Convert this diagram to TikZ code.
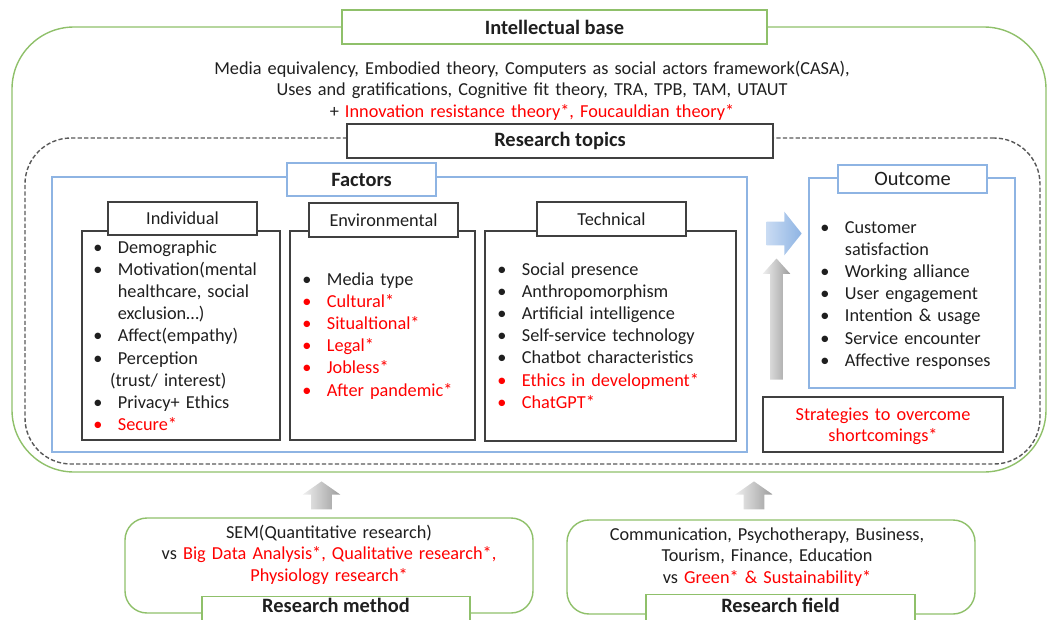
\documentclass[tikz,border=0pt]{standalone}
\usepackage{fontspec}
\setmainfont{Carlito}
\usetikzlibrary{shapes.arrows,positioning,fit}
\definecolor{FrameGreen}{HTML}{8FC06A}
\definecolor{FrameBlue}{HTML}{8EB4E3}
\definecolor{FrameDark}{HTML}{404040}
\definecolor{DashGray}{HTML}{595959}
\definecolor{TextDark}{HTML}{1F1F1F}
\definecolor{NewRed}{HTML}{FF0000}
\definecolor{ArrowBlueA}{HTML}{C9DBF3}
\definecolor{ArrowBlueB}{HTML}{8EB4E3}
\definecolor{ArrowGrayA}{HTML}{EFEFEF}
\definecolor{ArrowGrayB}{HTML}{9C9C9C}
\newcommand{\px}{0.025cm}
\newcommand{\redtxt}[1]{{\color{NewRed}#1}}
\newcommand{\bul}[1]{\makebox[17.5pt][l]{\textbullet}#1}
\newcommand{\rbul}[1]{{\color{NewRed}\makebox[17.5pt][l]{\textbullet}#1}}
\newcommand{\cont}[1]{\hspace*{17.5pt}#1}
\tikzset{
    % frames that hold the parts
    base frame/.style={
        draw=FrameGreen,
        line width=1pt,
        rounded corners=1.55cm,
        inner sep=0pt
    },
    topics frame/.style={
        draw=DashGray,
        line width=1pt,
        dash pattern=on 3pt off 1.6pt,
        rounded corners=1.15cm,
        inner sep=0pt
    },
    blue frame/.style={
        draw=FrameBlue,
        line width=1pt,
        inner sep=0pt
    },
    list box/.style={
        draw=FrameDark,
        line width=1pt,
        inner sep=0pt
    },
    field box/.style={
        draw=FrameGreen,
        line width=1pt,
        rounded corners=0.55cm,
        inner sep=0pt
    },
    % title boxes sitting on the frames
    title green/.style={
        draw=FrameGreen,
        line width=1pt,
        fill=white,
        inner sep=0pt,
        text=TextDark,
        font=\fontsize{14.5}{17}\selectfont\bfseries
    },
    title dark/.style={
        title green,
        draw=FrameDark
    },
    title blue/.style={
        title green,
        draw=FrameBlue
    },
    title plain/.style={
        title dark,
        font=\fontsize{13}{15}\selectfont
    },
    title plain blue/.style={
        title blue,
        font=\fontsize{14.5}{17}\selectfont
    },
    title open/.style={
        title green,
        anchor=north,
        inner xsep=0pt,
        inner ysep=3*\px,
        text height=#1,
        text depth=20pt
    },
    list text/.style={
        inner sep=0pt,
        anchor=base west,
        align=left,
        text=TextDark,
        text width=#1,
        font=\fontsize{13}{15.8}\selectfont
    },
    middle text/.style={
        inner sep=0pt,
        anchor=base,
        align=center,
        text=TextDark,
        text width=#1,
        font=\fontsize{13}{15.3}\selectfont
    },
    % block arrows
    up arrow/.style={
        single arrow,
        draw=none,
        inner xsep=0pt,
        rotate=90,
        left color=ArrowGrayA,
        right color=ArrowGrayB
    },
    right arrow/.style={
        single arrow,
        draw=none,
        inner xsep=0pt,
        left color=ArrowBlueA,
        right color=ArrowBlueB
    }
}
\begin{document}
\begin{tikzpicture}[x=\px, y=-\px]
    \useasboundingbox (0,0) rectangle (1047,619);

    % Intellectual base
    \node[base frame, fit={(12,27) (1046,472)}] (base) {};
    \node[title green, minimum width=425*\px, minimum height=34*\px] (baset) at (554.5,27) {Intellectual base};
    \node[middle text=760*\px] (theories) at (532,74)
        {Media equivalency, Embodied theory, Computers as social actors framework(CASA),\\
         Uses and gratifications, Cognitive fit theory, TRA, TPB, TAM, UTAUT\\
         + \redtxt{Innovation resistance theory*, Foucauldian theory*}};

    % Research topics
    \node[topics frame, fit={(25,138) (1040,464)}] (topics) {};
    \node[title dark, minimum width=426*\px, minimum height=34*\px] (topicst) at (560,141) {Research topics};

    % Factors
    \node[blue frame, fit={(52,177) (747,452)}] (factors) {};
    \node[title blue, minimum width=149*\px, minimum height=33*\px] (factorst) at (361.5,179.5) {Factors};

    \node[list box, fit={(82,231) (280,440)}] (indiv) {};
    \node[title plain, minimum width=149*\px, minimum height=33*\px] (indivt) at (182.5,218.5) {Individual};
    \node[list box, fit={(290,231) (475,440)}] (env) {};
    \node[title plain, minimum width=149*\px, minimum height=34*\px] (envt) at (383.5,220) {Environmental};
    \node[list box, fit={(485,231) (736,441)}] (tech) {};
    \node[title plain, minimum width=149*\px, minimum height=34*\px] (techt) at (611.5,219) {Technical};

    \node[list text=185*\px] (indivl) at (93,253)
        {\bul{Demographic}\\
         \bul{Motivation(mental}\\
         \cont{healthcare, social}\\
         \cont{exclusion…)}\\
         \bul{Affect(empathy)}\\
         \bul{Perception}\\
         \hspace*{12pt}(trust/ interest)\\
         \bul{Privacy+ Ethics}\\
         \rbul{Secure*}};
    \node[list text=170*\px] (envl) at (302,285)
        {\bul{Media type}\\
         \rbul{Cultural*}\\
         \rbul{Situaltional*}\\
         \rbul{Legal*}\\
         \rbul{Jobless*}\\
         \rbul{After pandemic*}};
    \node[list text=235*\px] (techl) at (497,275)
        {\bul{Social presence}\\
         \bul{Anthropomorphism}\\
         \bul{Artificial intelligence}\\
         \bul{Self-service technology}\\
         \bul{Chatbot characteristics}\\
         \rbul{Ethics in development*}\\
         \rbul{ChatGPT*}};

    % Outcome
    \node[blue frame, fit={(809,178) (1015,388)}] (outc) {};
    \node[title plain blue, minimum width=149*\px, minimum height=28*\px] (outct) at (912.5,179) {Outcome};
    \node[list text=190*\px] (outcl) at (820,233)
        {\bul{Customer}\\
         \cont{satisfaction}\\
         \bul{Working alliance}\\
         \bul{User engagement}\\
         \bul{Intention \& usage}\\
         \bul{Service encounter}\\
         \bul{Affective responses}};

    \node[list box, fit={(763,397) (1003,452)}] (strat) {};
    \node[middle text=235*\px, text=NewRed] (stratl) at (883,420)
        {Strategies to overcome\\ shortcomings*};

    % arrows
    \node[right arrow, minimum height=35*\px, inner ysep=11.5*\px,
          single arrow head extend=10*\px, single arrow tip angle=103] (toout) at (779.5,233.5) {};
    \node[up arrow, minimum height=121*\px, inner ysep=6*\px,
          single arrow head extend=7.5*\px, single arrow tip angle=84] (fromstrat) at (776.5,322.5) {};

    % Research method and Research field
    \node[field box, fit={(125,518) (533,613)}] (method) {};
    \node[title open=13*\px, minimum width=268*\px] (methodt) at (336,596) {Research method};
    \node[middle text=400*\px] (methodl) at (329,538)
        {SEM(Quantitative research)\\
         vs \redtxt{Big Data Analysis*, Qualitative research*,}\\
         \redtxt{Physiology research*}};

    \node[field box, fit={(567,520) (975,614)}] (field) {};
    \node[title open=15*\px, minimum width=269*\px] (fieldt) at (780.5,594) {Research field};
    \node[middle text=400*\px] (fieldl) at (767,540)
        {Communication, Psychotherapy, Business,\\
         Tourism, Finance, Education\\
         vs \redtxt{Green* \& Sustainability*}};

    \node[up arrow, minimum height=28*\px, inner ysep=10*\px,
          single arrow head extend=8.5*\px, single arrow tip angle=110] (methodup) at (321.5,499) {};
    \node[up arrow, minimum height=28*\px, inner ysep=10*\px,
          single arrow head extend=8.5*\px, single arrow tip angle=110] (fieldup) at (754,499) {};
\end{tikzpicture}
\end{document}
